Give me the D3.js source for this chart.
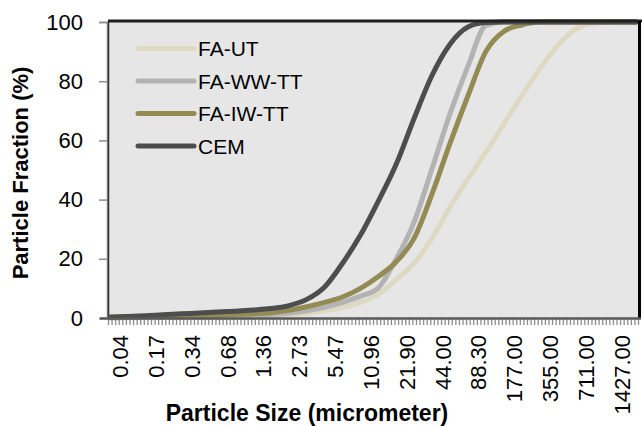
<!DOCTYPE html>
<html>
<head>
<meta charset="utf-8">
<script src="https://cdn.jsdelivr.net/npm/d3@7/dist/d3.min.js"></script>
<style>
  body { margin: 0; background: #ffffff; }
  svg { display: block; font-family: "Liberation Sans", Arial, sans-serif; }
</style>
</head>
<body>
<svg id="chart" width="642" height="426"></svg>
<script>
// Particle size classes on the category axis (one band per size class)
const categoryCount = 148;
const sizeLabels = ["0.04", "0.17", "0.34", "0.68", "1.36", "2.73", "5.47", "10.96",
                    "21.90", "44.00", "88.30", "177.00", "355.00", "711.00", "1427.00"];
const labelIndex = [3, 13, 23, 33, 43, 53, 63, 73, 83, 93, 103, 113, 123, 133, 143];

// Cumulative particle fraction (%) sampled at these size classes
const sampleIndex = [0, 5, 10, 15, 20, 25, 30, 35, 40, 45, 50, 55, 60, 65, 70, 75,
                     80, 85, 90, 95, 100, 105, 110, 115, 120, 125, 130, 135, 140, 145, 147];

const faUT   = [0.0, 0.05, 0.1, 0.15, 0.2, 0.25, 0.3, 0.4, 0.5, 0.7, 1.0, 1.5, 2.4, 3.6, 5.3, 8.0,
                13, 18.5, 27, 37.5, 47, 56, 65.5, 75, 84, 92, 97.5, 99.6, 100, 100, 100];
const faWWTT = [0.1, 0.2, 0.3, 0.4, 0.5, 0.6, 0.7, 0.8, 1.0, 1.2, 1.6, 2.4, 3.6, 5.3, 7.4, 10.2,
                20, 32.5, 50.5, 69, 85, 98.8, 100, 100, 100, 100, 100, 100, 100, 100, 100];
const faIWTT = [0.2, 0.3, 0.4, 0.6, 0.7, 0.9, 1.0, 1.2, 1.4, 1.8, 2.6, 3.8, 5.3, 7.1, 10, 14,
                19, 27, 42, 59, 75, 90, 96.8, 99, 100, 100, 100, 100, 100, 100, 100];
const cem    = [0.3, 0.5, 0.8, 1.1, 1.4, 1.7, 2.0, 2.3, 2.7, 3.2, 4.2, 6.3, 10.5, 18.5, 28, 39.5,
                52, 67.5, 82, 92.5, 98.3, 99.8, 100, 100, 100, 100, 100, 100, 100, 100, 100];

const seriesNames  = ["FA-UT", "FA-WW-TT", "FA-IW-TT", "CEM"];
const seriesValues = [faUT, faWWTT, faIWTT, cem];
const seriesColors = ["#ddd9c3", "#b3b3b3", "#948a54", "#4d4d4d"];

const yTicks = [0, 20, 40, 60, 80, 100];

// ---- layout ----
const plot = { left: 108, right: 638, top: 21, bottom: 318 };
const svg = d3.select("#chart");

const x = d3.scaleBand()
  .domain(d3.range(categoryCount))
  .range([plot.left, plot.right])
  .paddingInner(0).paddingOuter(0);
const xEdge = d3.scaleLinear().domain([0, categoryCount]).range([plot.left, plot.right]);
const y = d3.scaleLinear().domain([0, 100]).range([318, 22]);
const cx = k => x(k) + x.bandwidth() / 2;

// plot area
svg.append("rect")
  .attr("x", plot.left).attr("y", plot.top)
  .attr("width", plot.right - plot.left).attr("height", plot.bottom - plot.top)
  .attr("fill", "#e6e6e6");

// y axis
const yAxis = svg.append("g")
  .attr("transform", `translate(${plot.left - 1},0)`)
  .call(d3.axisLeft(y).tickValues(yTicks).tickSize(8).tickPadding(16));
yAxis.select(".domain").attr("stroke", "#8c8c8c").attr("stroke-width", 1.5);
yAxis.selectAll(".tick line").attr("stroke", "#8c8c8c").attr("stroke-width", 1.5);
yAxis.selectAll(".tick text").attr("font-size", 22).attr("fill", "#000")
  .attr("font-family", "Liberation Sans, Arial, sans-serif");

// left edge of plot
svg.append("line")
  .attr("x1", plot.left + 0.5).attr("x2", plot.left + 0.5)
  .attr("y1", plot.top).attr("y2", plot.bottom)
  .attr("stroke", "#333").attr("stroke-width", 1.5);

// series lines
const line = d3.line()
  .x(d => cx(d[0]))
  .y(d => y(d[1]))
  .curve(d3.curveMonotoneX);

svg.append("g").selectAll("path")
  .data(seriesValues)
  .join("path")
  .attr("d", vals => line(sampleIndex.map((k, i) => [k, vals[i]])))
  .attr("fill", "none")
  .attr("stroke", (d, i) => seriesColors[i])
  .attr("stroke-width", 5)
  .attr("stroke-linejoin", "round")
  .attr("stroke-linecap", "round");

// top and right frame
svg.append("line")
  .attr("x1", plot.left).attr("x2", 642)
  .attr("y1", plot.top).attr("y2", plot.top)
  .attr("stroke", "#1f1f1f").attr("stroke-width", 3);
svg.append("line")
  .attr("x1", plot.right + 1.5).attr("x2", plot.right + 1.5)
  .attr("y1", plot.top).attr("y2", plot.bottom)
  .attr("stroke", "#000").attr("stroke-width", 3);

// x axis: minor ticks at class boundaries
const xMinor = svg.append("g")
  .attr("transform", `translate(0,${plot.bottom + 1})`)
  .call(d3.axisBottom(xEdge).tickValues(d3.range(categoryCount + 1)).tickSize(6).tickFormat(""));
xMinor.select(".domain").remove();
xMinor.selectAll(".tick line").attr("stroke", "#8c8c8c").attr("stroke-width", 1.3);

// x axis line
svg.append("line")
  .attr("x1", 100).attr("x2", 641)
  .attr("y1", plot.bottom + 0.5).attr("y2", plot.bottom + 0.5)
  .attr("stroke", "#595959").attr("stroke-width", 2.5);

// x axis labels
const xLab = svg.append("g")
  .attr("transform", `translate(0,335)`)
  .call(d3.axisBottom(x).tickValues(labelIndex).tickSize(0)
        .tickFormat(k => sizeLabels[labelIndex.indexOf(k)]));
xLab.select(".domain").remove();
xLab.selectAll(".tick text")
  .attr("font-size", 22).attr("fill", "#000")
  .attr("font-family", "Liberation Sans, Arial, sans-serif")
  .attr("text-anchor", "end")
  .attr("transform", "rotate(-90)")
  .attr("x", 0).attr("y", 0).attr("dy", "0.35em");

// axis titles
svg.append("text")
  .attr("x", 307).attr("y", 421)
  .attr("text-anchor", "middle")
  .attr("font-size", 23).attr("font-weight", "bold")
  .text("Particle Size (micrometer)");
svg.append("text")
  .attr("transform", "translate(28,173) rotate(-90)")
  .attr("text-anchor", "middle")
  .attr("font-size", 22).attr("font-weight", "bold")
  .text("Particle Fraction (%)");

// legend
const legend = svg.append("g").selectAll("g")
  .data(seriesNames)
  .join("g")
  .attr("transform", (d, i) => `translate(138,${48.5 + i * 32.5})`);
legend.append("line")
  .attr("x1", 0).attr("x2", 56)
  .attr("stroke", (d, i) => seriesColors[i])
  .attr("stroke-width", 5)
  .attr("stroke-linecap", "round");
legend.append("text")
  .attr("x", 60).attr("dy", "0.36em")
  .attr("font-size", 21).attr("fill", "#000")
  .text(d => d);
</script>
</body>
</html>
